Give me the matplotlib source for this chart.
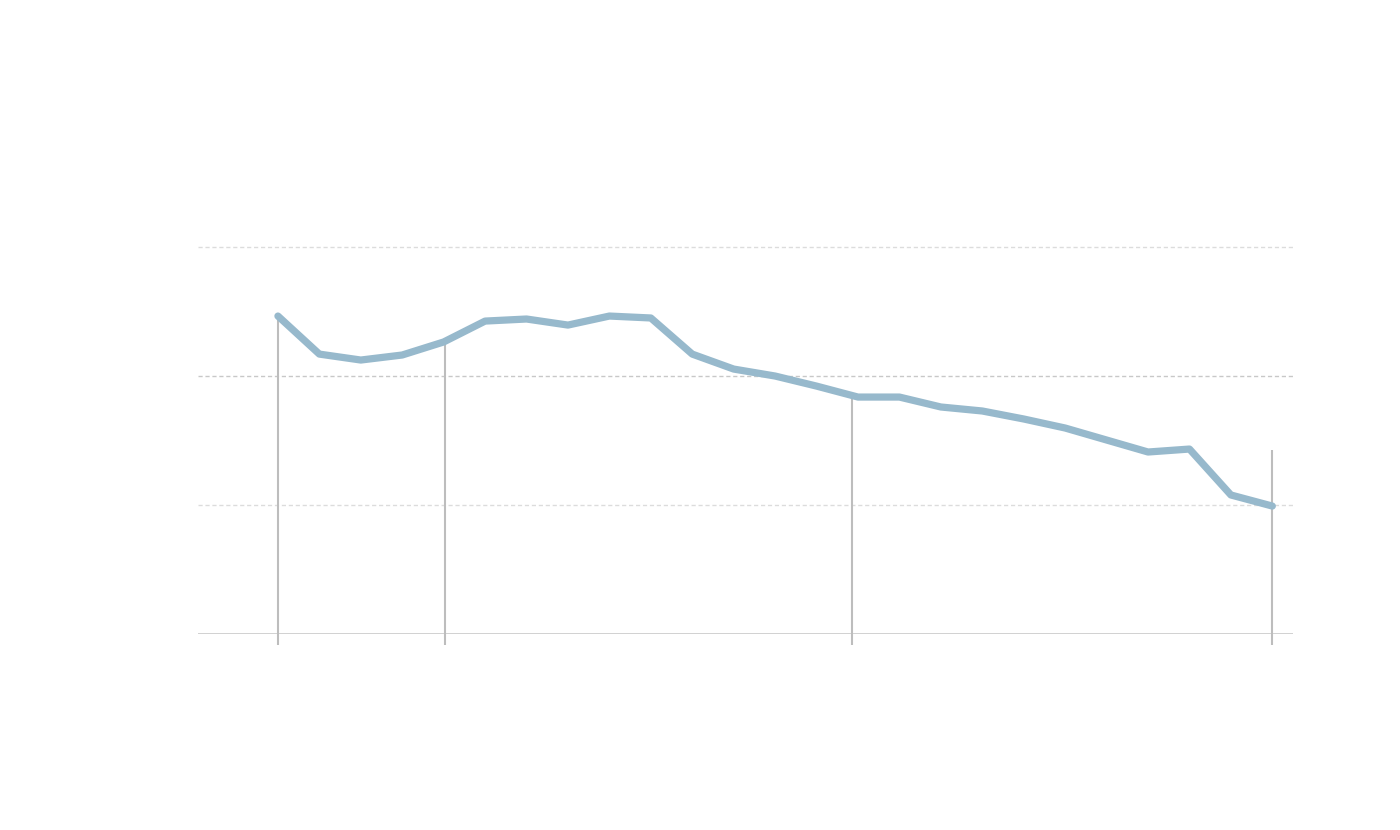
import matplotlib
matplotlib.use("Agg")
import matplotlib.pyplot as plt

# Data (arbitrary units; gridlines at 10/20/30)
periods = list(range(25))
values = [24.65, 21.7, 21.24, 21.63, 22.64, 24.26, 24.42, 23.95, 24.65, 24.5,
          21.7, 20.54, 20.0, 19.22, 18.37, 18.37, 17.6, 17.29, 16.67, 15.97,
          15.04, 14.11, 14.34, 10.78, 9.92]
marker_pos = [0, 4.03, 13.86, 24]
marker_top = [24.65, 22.64, 18.4, 14.26]
grid_vals = [10, 20, 30]
grid_colors = ["#dcdcdc", "#c8c8c8", "#dcdcdc"]

fig = plt.figure(figsize=(14, 8.3), dpi=100)
ax = fig.add_axes([0.1414, 0.2361, 0.9236 - 0.1414, 0.749 - 0.2361])
ax.set_xlim(-1.93, 24.5)
ax.set_ylim(0, 33.0)

for g, c in zip(grid_vals, grid_colors):
    ax.axhline(g, color=c, lw=1.0, linestyle=(0, (3, 2)), zorder=1)

ax.axhline(0, color="#c4c4c4", lw=1.8, zorder=2)
ax.vlines(marker_pos, [-0.85] * len(marker_pos), marker_top,
          colors="#bdbdbd", lw=1.5, clip_on=False, zorder=2)

ax.plot(periods, values, color="#97b9cc", lw=5.2, solid_capstyle="round",
        solid_joinstyle="round", zorder=3)

for s in ax.spines.values():
    s.set_visible(False)
ax.set_xticks([])
ax.set_yticks([])

fig.savefig("out.png", dpi=100, facecolor="white")
